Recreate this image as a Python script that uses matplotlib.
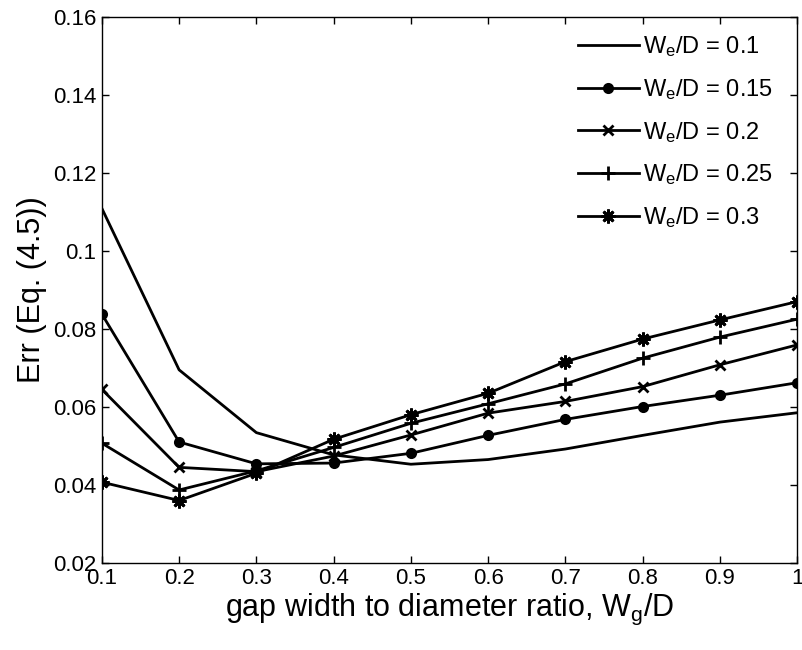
import matplotlib
matplotlib.use("Agg")
import matplotlib.pyplot as plt

plt.rcParams['font.family'] = ['Liberation Sans', 'DejaVu Sans']
plt.rcParams['mathtext.fontset'] = 'custom'
plt.rcParams['mathtext.rm'] = 'Liberation Sans'
plt.rcParams['mathtext.it'] = 'Liberation Sans:italic'

# Daten
gap = [0.1, 0.2, 0.3, 0.4, 0.5, 0.6, 0.7, 0.8, 0.9, 1.0]
err_010 = [0.1109, 0.0695, 0.0534, 0.0477, 0.0453, 0.0465, 0.0492, 0.0527, 0.0561, 0.0585]
err_015 = [0.0838, 0.0510, 0.0454, 0.0456, 0.0481, 0.0527, 0.0568, 0.0601, 0.0630, 0.0662]
err_020 = [0.0645, 0.0445, 0.0434, 0.0474, 0.0528, 0.0584, 0.0614, 0.0652, 0.0708, 0.0759]
err_025 = [0.0507, 0.0387, 0.0436, 0.0496, 0.0558, 0.0608, 0.0659, 0.0725, 0.0779, 0.0825]
err_030 = [0.0407, 0.0360, 0.0430, 0.0517, 0.0580, 0.0635, 0.0716, 0.0774, 0.0823, 0.0870]
series = [err_010, err_015, err_020, err_025, err_030]
labels = ["0.1", "0.15", "0.2", "0.25", "0.3"]
markers = ["None", "o", "x", "+", (8, 2, 0)]
msizes = [0, 6, 7, 10, 10]

xticks = [0.1, 0.2, 0.3, 0.4, 0.5, 0.6, 0.7, 0.8, 0.9, 1.0]
xticklabels = ["0.1", "0.2", "0.3", "0.4", "0.5", "0.6", "0.7", "0.8", "0.9", "1"]
yticks = [0.02, 0.04, 0.06, 0.08, 0.1, 0.12, 0.14, 0.16]
yticklabels = ["0.02", "0.04", "0.06", "0.08", "0.1", "0.12", "0.14", "0.16"]

fig = plt.figure(figsize=(8.02, 6.5), dpi=100)
ax = fig.add_axes([0.127, 0.134, 0.867, 0.84])

for y, lab, m, ms in zip(series, labels, markers, msizes):
    ax.plot(gap, y, color="black", linewidth=2, marker=m, markersize=ms,
            markeredgewidth=2, label=r"W$_\mathrm{e}$/D = " + lab)

ax.set_xlim(0.1, 1.0)
ax.set_ylim(0.02, 0.16)
ax.set_xticks(xticks)
ax.set_xticklabels(xticklabels)
ax.set_yticks(yticks)
ax.set_yticklabels(yticklabels)
ax.tick_params(direction="in", top=True, right=True, labelsize=16, length=5, width=1, pad=4)
for s in ax.spines.values():
    s.set_linewidth(1)

ax.set_xlabel(r"gap width to diameter ratio, W$_\mathrm{g}$/D", fontsize=22, labelpad=2)
ax.set_ylabel("Err (Eq. (4.5))", fontsize=22, labelpad=4)

leg = ax.legend(loc="upper right", bbox_to_anchor=(0.978, 0.985), frameon=False,
                fontsize=17, handlelength=2.6, handletextpad=0.15,
                labelspacing=0.75, borderaxespad=0)

fig.savefig("out.png", dpi=100)
